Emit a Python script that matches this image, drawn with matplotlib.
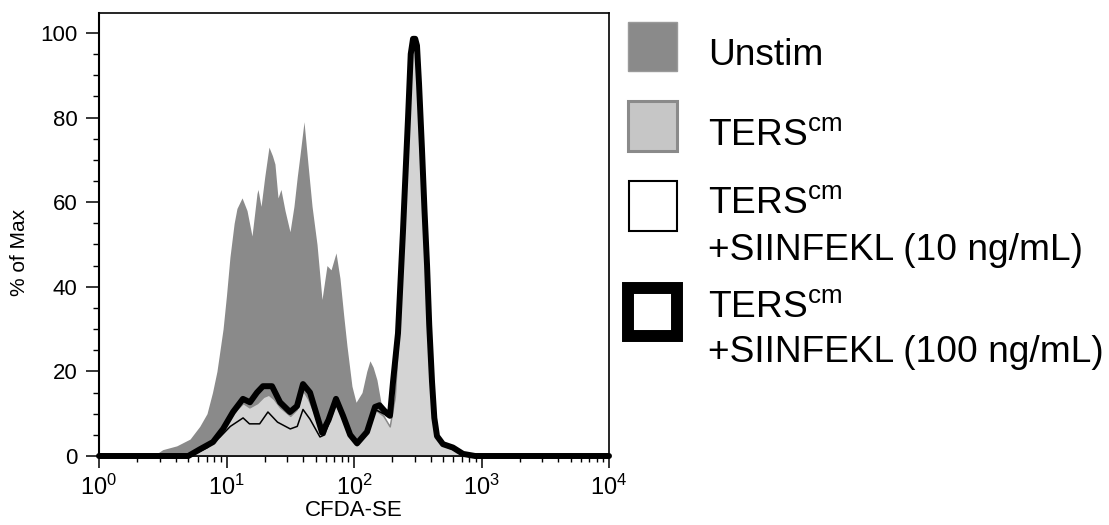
import numpy as np
import matplotlib
matplotlib.use("Agg")
import matplotlib.pyplot as plt
from matplotlib.patches import Rectangle
from matplotlib.ticker import LogLocator, LogFormatterMathtext, MultipleLocator

plt.rcParams['font.family'] = ['Liberation Sans', 'DejaVu Sans']
plt.rcParams['mathtext.fontset'] = 'custom'
plt.rcParams['mathtext.rm'] = 'Liberation Sans'
plt.rcParams['mathtext.it'] = 'Liberation Sans:italic'
plt.rcParams['mathtext.bf'] = 'Liberation Sans:bold'

# ---- data (log10 of CFDA-SE intensity, % of Max) ----
unstim_lx = [0.0, 0.40, 0.45, 0.50, 0.61, 0.714, 0.79, 0.847, 0.89, 0.925, 0.973, 1.0, 1.027,
             1.06, 1.082, 1.122, 1.161, 1.20, 1.239, 1.247, 1.271, 1.30, 1.333, 1.36, 1.380,
             1.404, 1.427, 1.459, 1.498, 1.529, 1.555, 1.576, 1.608, 1.639, 1.671, 1.710, 1.749,
             1.788, 1.820, 1.859, 1.890, 1.92, 1.945, 1.984, 2.016, 2.063, 2.10, 2.125, 2.150,
             2.180, 2.227, 2.259, 2.30, 2.35, 2.45, 2.55, 4.0]
unstim_val = [0, 0, 0.5, 1.5, 2.4, 4, 7, 10, 15, 20, 30, 38, 47,
              55, 58.5, 61, 58, 52, 62, 63, 59, 66, 73, 71, 69,
              61, 63, 58, 53, 59, 66, 71, 79, 69, 59, 50, 37,
              45, 44, 48, 42, 33, 26, 16.5, 12.7, 15, 20, 22.5, 21,
              18, 10, 8, 5, 2, 0.5, 0, 0]

ters_lx = [0.0, 0.6, 0.75, 0.85, 0.95, 1.03, 1.08, 1.13, 1.18, 1.24, 1.29, 1.33, 1.37, 1.42,
           1.50, 1.55, 1.60, 1.64, 1.71, 1.77, 1.86, 1.91, 2.02, 2.10, 2.165, 2.23, 2.28, 2.32,
           2.345, 2.384, 2.40, 2.424, 2.445, 2.463, 2.48, 2.494, 2.51, 2.533, 2.553, 2.573,
           2.59, 2.612, 2.63, 2.651, 2.70, 2.78, 2.86, 2.95, 4.0]
ters_val = [0, 0, 0.8, 2.5, 5.5, 9, 11, 12.5, 11.5, 12.5, 14, 14.5, 13.5, 11.5,
            9.5, 11, 15.5, 13.5, 8.5, 5.5, 12.5, 9, 2.5, 5.5, 11, 9.5, 7, 14,
            27, 52, 63, 79, 94, 98, 98, 96, 87, 71, 57, 43,
            29, 16, 8, 4.5, 2.5, 1.5, 0.3, 0, 0]

p10_lx = [0.0, 0.6, 0.75, 0.85, 0.95, 1.03, 1.08, 1.13, 1.18, 1.26, 1.325, 1.40, 1.50, 1.555,
          1.60, 1.655, 1.733, 1.77, 1.859, 1.91, 2.02, 2.10, 2.165, 2.23, 2.28, 2.31, 2.345,
          2.384, 2.40, 2.424, 2.445, 2.463, 2.48, 2.494, 2.51, 2.533, 2.553, 2.573, 2.59,
          2.612, 2.63, 2.651, 2.70, 2.78, 2.86, 2.95, 4.0]
p10_val = [0, 0, 0.5, 2, 4.5, 7, 8, 9, 7.6, 7.6, 10.4, 8, 6.4, 7,
           11, 8.7, 4.5, 5, 12.5, 9, 3, 5.5, 11, 10, 9.5, 16, 28,
           52, 63, 80, 95, 98.5, 98.5, 97, 88, 72, 58, 44, 30,
           17, 8.5, 4.5, 2.8, 2, 0.5, 0, 0]

p100_lx = [0.0, 0.70, 0.792, 0.894, 0.973, 1.051, 1.129, 1.184, 1.239, 1.286, 1.357, 1.420,
           1.498, 1.553, 1.60, 1.655, 1.710, 1.75, 1.80, 1.859, 1.914, 1.97, 2.024, 2.102,
           2.165, 2.20, 2.259, 2.282, 2.306, 2.345, 2.384, 2.40, 2.424, 2.445, 2.463, 2.48,
           2.494, 2.51, 2.533, 2.553, 2.573, 2.59, 2.612, 2.63, 2.651, 2.698, 2.776, 2.855,
           2.95, 4.0]
p100_val = [0, 0, 1.6, 3.3, 6.4, 10.4, 13.5, 12.7, 15, 16.5, 16.5, 12.7,
            10.4, 11.8, 17, 15, 9.5, 5.5, 8.5, 13.5, 9.5, 5, 3.0, 5.7,
            11.6, 12, 10, 9.5, 17.5, 29, 53, 64, 80, 95, 98.6, 98.6,
            97, 88, 72.6, 58, 45, 31, 17.5, 9, 4.7, 2.8, 2, 0.5,
            0, 0]

legend_labels = ['Unstim',
                 r'TERS$^{\mathregular{cm}}$',
                 r'TERS$^{\mathregular{cm}}$' + '\n+SIINFEKL (10 ng/mL)',
                 r'TERS$^{\mathregular{cm}}$' + '\n+SIINFEKL (100 ng/mL)']

# ---- figure ----
W, H = 1109, 525
fig = plt.figure(figsize=(W / 100, H / 100), dpi=100)
ax = fig.add_axes([99 / W, 1 - 456 / H, (609 - 99) / W, (456 - 13) / H])

dark = '#8a8a8a'
light = '#d4d4d4'
ax.fill_between(10 ** np.array(unstim_lx), unstim_val, 0, color=dark, lw=0, zorder=1)
ax.fill_between(10 ** np.array(ters_lx), ters_val, 0, facecolor=light, edgecolor='#8a8a8a',
                lw=1.1, zorder=2)
ax.plot(10 ** np.array(p10_lx), p10_val, color='black', lw=1.1, zorder=3)
ax.plot(10 ** np.array(p100_lx), p100_val, color='black', lw=4.3, zorder=4,
        solid_joinstyle='round', solid_capstyle='round', clip_on=False)

ax.set_xscale('log')
ax.set_xlim(1, 1e4)
ax.set_ylim(0, 104.7)
ax.xaxis.set_major_locator(LogLocator(base=10, numticks=10))
ax.xaxis.set_minor_locator(LogLocator(base=10, subs=np.arange(2, 10), numticks=20))
ax.xaxis.set_major_formatter(LogFormatterMathtext())
ax.yaxis.set_major_locator(MultipleLocator(20))
ax.yaxis.set_minor_locator(MultipleLocator(5))

for s in ax.spines.values():
    s.set_linewidth(1.2)
ax.spines['left'].set_linewidth(1.5)

ax.tick_params(axis='x', which='major', length=8.6, width=1.1, pad=5, labelsize=17, direction='out')
ax.tick_params(axis='x', which='minor', length=4.3, width=1.0, direction='out')
ax.tick_params(axis='y', which='major', length=9.4, width=1.1, pad=6, labelsize=16, direction='out')
ax.tick_params(axis='y', which='minor', length=4.3, width=1.0, direction='out')

ax.set_xlabel('CFDA-SE', fontsize=16, labelpad=0)
fig.text(20 / W, 1 - 252 / H, '% of Max', rotation=90, ha='center', va='center', fontsize=15)

# ---- legend drawn at figure level ----
def px_rect(x0, y0, x1, y1, **kw):
    r = Rectangle((x0 / W, 1 - y1 / H), (x1 - x0) / W, (y1 - y0) / H,
                  transform=fig.transFigure, **kw)
    fig.add_artist(r)

px_rect(628, 22, 677, 71, facecolor=dark, edgecolor='#9a9a9a', lw=1.0)
px_rect(628, 101, 677, 151, facecolor='#c6c6c6', edgecolor='#8a8a8a', lw=2.2)
px_rect(628.5, 181, 677, 231, facecolor='white', edgecolor='black', lw=1.5)
px_rect(628, 288, 677, 336, facecolor='white', edgecolor='black', lw=8.6)

tx = 708 / W
lfs = 26.7
fig.text(tx, 1 - 65 / H, legend_labels[0], fontsize=lfs, va='baseline', ha='left')
fig.text(tx, 1 - 145 / H, legend_labels[1], fontsize=lfs, va='baseline', ha='left')
l2a, l2b = legend_labels[2].split('\n')
fig.text(tx, 1 - 213 / H, l2a, fontsize=lfs, va='baseline', ha='left')
fig.text(tx, 1 - 260 / H, l2b, fontsize=lfs, va='baseline', ha='left')
l3a, l3b = legend_labels[3].split('\n')
fig.text(tx, 1 - 317 / H, l3a, fontsize=lfs, va='baseline', ha='left')
fig.text(tx, 1 - 362 / H, l3b, fontsize=lfs, va='baseline', ha='left')

fig.savefig('out.png', dpi=100)
